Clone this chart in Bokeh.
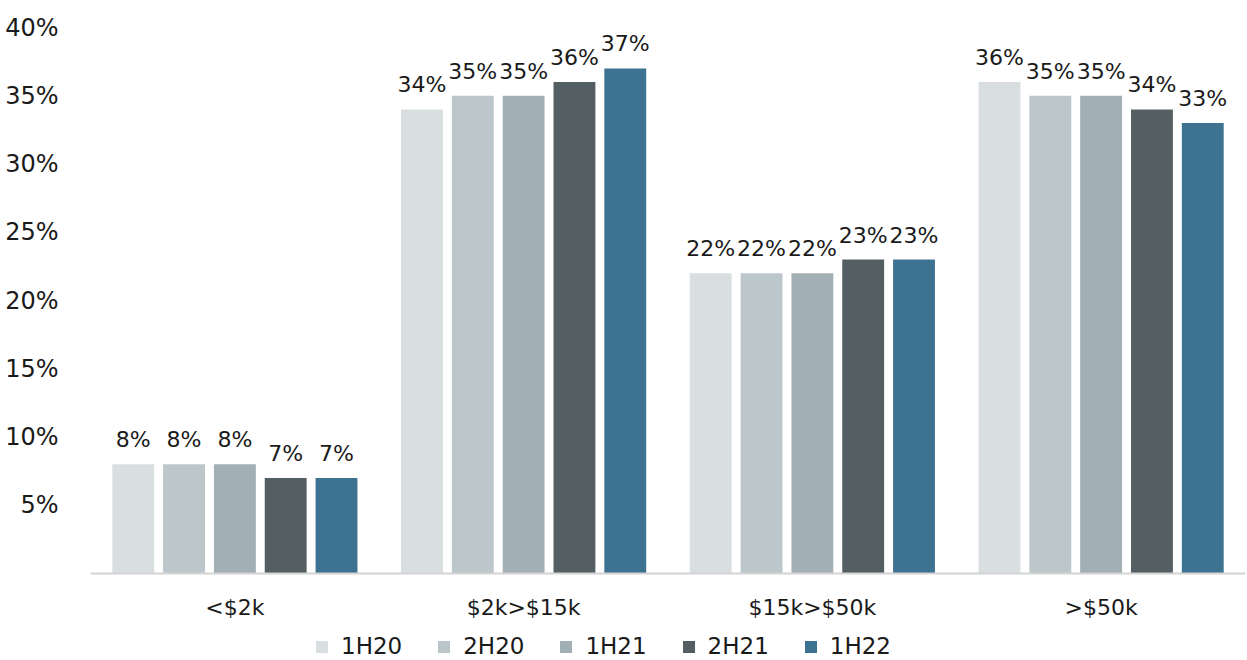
from bokeh.plotting import figure
from bokeh.models import (ColumnDataSource, Range1d, FixedTicker, Legend,
                          LegendItem, LabelSet, Span)
from bokeh.core.properties import value
from bokeh.embed import file_html
from bokeh.resources import INLINE

# Share of spend by band, per half-year (percent)
categories = ["<$2k", "$2k>$15k", "$15k>$50k", ">$50k"]
periods = ["1H20", "2H20", "1H21", "2H21", "1H22"]
v_1h20 = [8, 34, 22, 36]
v_2h20 = [8, 35, 22, 35]
v_1h21 = [8, 35, 22, 35]
v_2h21 = [7, 36, 23, 34]
v_1h22 = [7, 37, 23, 33]
series = [v_1h20, v_2h20, v_1h21, v_2h21, v_1h22]
y_ticks = [5, 10, 15, 20, 25, 30, 35, 40]

colors = ["#D9DEE1", "#BCC7CB", "#A2AFB5", "#545F64", "#3D7390"]
FONT = "DejaVu Sans"
TEXT = "#1a1a1a"

# frame runs from the top margin to the bottom of the page; the area under
# the zero line holds the band names and the legend
TOP, H, PLOT_H = 27, 660, 546
px_per_unit = PLOT_H / 40.0
y_bottom = -(H - TOP - PLOT_H) / px_per_unit

p = figure(frame_width=1155, frame_height=H - TOP, output_backend="svg",
           toolbar_location=None,
           x_range=Range1d(-0.5, 3.5), y_range=Range1d(y_bottom, 40),
           min_border_left=90, min_border_right=2, min_border_top=TOP,
           min_border_bottom=0)
p.outline_line_color = None
p.xgrid.grid_line_color = None
p.ygrid.grid_line_color = None
p.xaxis.visible = False

step = 0.176
bar_w = 0.145
items = []
for i, (name, vals, col) in enumerate(zip(periods, series, colors)):
    off = (i - 2) * step
    src = ColumnDataSource(dict(
        x=[k + off for k in range(len(categories))],
        top=vals,
        lbl=[f"{v}%" for v in vals],
    ))
    r = p.vbar(x="x", top="top", bottom=0, width=bar_w, source=src,
               fill_color=col, line_color=None)
    p.add_layout(LabelSet(x="x", y="top", text="lbl", source=src,
                          text_align="center", text_baseline="bottom",
                          y_offset=12, text_font=value(FONT),
                          text_font_size="22px", text_color=TEXT))
    items.append(LegendItem(label=name, renderers=[r]))

# zero line
p.add_layout(Span(location=0, dimension="width", line_color="#D4D4D4",
                  line_width=2))

# band names under the zero line
p.text(x=list(range(len(categories))),
       y=[-34 / px_per_unit] * len(categories), text=categories,
       text_align="center", text_baseline="middle",
       text_font=value(FONT), text_font_size="22px", text_color=TEXT)

# y axis: percent labels only
p.yaxis.ticker = FixedTicker(ticks=y_ticks)
p.yaxis.major_label_overrides = {t: f"{t}%" for t in y_ticks}
p.yaxis.axis_line_color = None
p.yaxis.major_tick_line_color = None
p.yaxis.minor_tick_line_color = None
p.yaxis.major_label_text_font = FONT
p.yaxis.major_label_text_font_size = "24px"
p.yaxis.major_label_text_color = TEXT
p.yaxis.major_label_standoff = 26

legend = Legend(items=items, orientation="horizontal", location=(224, 1),
                label_text_font=FONT, label_text_font_size="23px",
                label_text_color=TEXT, glyph_width=15, glyph_height=15,
                label_height=15, spacing=34, label_standoff=12,
                border_line_color=None, background_fill_alpha=0,
                padding=0, margin=0)
p.add_layout(legend)

open("out.html", "w").write(file_html(p, INLINE))
